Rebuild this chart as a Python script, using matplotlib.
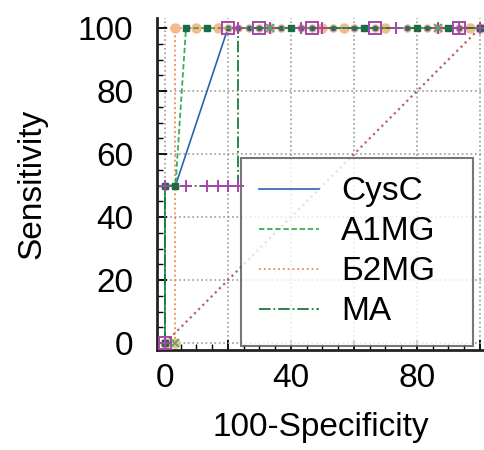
import matplotlib
matplotlib.use("Agg")
import matplotlib.pyplot as plt
from matplotlib.ticker import MultipleLocator, FixedLocator, FixedFormatter

plt.rcParams['font.family'] = ['Liberation Sans', 'DejaVu Sans']

# ROC points (100-Specificity, Sensitivity)
cysc_x = [0, 0, 3.33, 20, 23.3, 26.7, 30, 36.7, 43.3, 46.7, 53.3, 60, 66.7, 76.7, 83.3, 93.3, 100]
cysc_y = [0, 50, 50, 100, 100, 100, 100, 100, 100, 100, 100, 100, 100, 100, 100, 100, 100]
a1mg_x = [0, 0, 3.33, 6.67, 13.3, 40, 63.3, 80, 90, 100]
a1mg_y = [0, 50, 50, 100, 100, 100, 100, 100, 100, 100]
b2mg_x = [0, 3.33, 3.33, 10, 16.7, 33.3, 50, 56.7, 70, 86.7, 96.7, 100]
b2mg_y = [0, 0, 100, 100, 100, 100, 100, 100, 100, 100, 100, 100]
ma_x = [0, 0, 6.67, 13.3, 16.7, 20, 23.3, 23.3, 33.3, 43.3, 50, 73.3, 86.7, 93.3, 100]
ma_y = [0, 50, 50, 50, 50, 50, 50, 100, 100, 100, 100, 100, 100, 100, 100]
ref_x = [0, 100]
ref_y = [0, 100]

x_ticks = [0, 20, 40, 60, 80, 100]
x_labels = ['0', '', '40', '', '80', '']

fig = plt.figure(figsize=(4.85, 4.5), dpi=100)
ax = fig.add_axes([0.3237, 0.2222, 0.6763, 0.7378])

ax.plot(ref_x, ref_y, color='#b86262', linestyle=':', linewidth=1.6, zorder=2)

ax.plot(b2mg_x, b2mg_y, color='#f08848', linestyle=':', linewidth=1.3,
        marker='o', markersize=6.5, markerfacecolor='#f7b98a', markeredgecolor='#f7b98a',
        label='\u04112MG', zorder=3)
ax.plot(cysc_x, cysc_y, color='#2a62b0', linestyle='-', linewidth=1.2,
        marker='o', markersize=5, markerfacecolor='#2a5aa8', markeredgecolor='#f4a56c',
        markeredgewidth=1.0, label='CysC', zorder=4)
ax.plot(a1mg_x, a1mg_y, color='#3aae55', linestyle=(0, (3, 1.5)), linewidth=1.3,
        marker='s', markersize=4.5, markerfacecolor='#1d6a48', markeredgecolor='#1d6a48',
        label='A1MG', zorder=5)
ax.plot(ma_x, ma_y, color='#1f7a3e', linestyle='-.', linewidth=1.3,
        marker='+', markersize=8, markeredgecolor='#a04aa8', markeredgewidth=1.4,
        label='MA', zorder=6)
ax.plot(cysc_x[::3], cysc_y[::3], linestyle='none', marker='s', markersize=8,
        markerfacecolor='none', markeredgecolor='#a04aa8', markeredgewidth=1.4, zorder=7)
ax.plot(b2mg_x[1::4], b2mg_y[1::4], linestyle='none', marker='x', markersize=6,
        markeredgecolor='#4cae5c', markeredgewidth=1.2, zorder=7)

ax.set_xlim(-2.54, 101.6)
ax.set_ylim(-2.2, 103.2)

ax.xaxis.set_major_locator(FixedLocator(x_ticks))
ax.xaxis.set_major_formatter(FixedFormatter(x_labels))
ax.xaxis.set_minor_locator(MultipleLocator(5))
ax.yaxis.set_major_locator(MultipleLocator(20))
ax.yaxis.set_minor_locator(MultipleLocator(5))

ax.tick_params(which='major', direction='in', length=7, width=1.3, labelsize=24)
ax.tick_params(axis='y', which='major', pad=17)
ax.tick_params(axis='x', which='major', pad=9)
ax.tick_params(which='minor', direction='in', length=4, width=1.0)

ax.grid(True, which='major', color='#9a9a9a', linestyle=':', linewidth=1.2)
for s in ['top', 'right']:
    ax.spines[s].set_visible(False)
for s in ['left', 'bottom']:
    ax.spines[s].set_linewidth(2)
    ax.spines[s].set_color('#222222')

ax.set_xlabel('100-Specificity', fontsize=24, labelpad=13)
ax.set_ylabel('Sensitivity', fontsize=24, labelpad=22)

handles, labels = ax.get_legend_handles_labels()
order = [1, 2, 0, 3]
leg = ax.legend([handles[i] for i in order], [labels[i] for i in order],
                loc='upper left', bbox_to_anchor=(241 / 485, 1 - 343 / 450, 232 / 485, 185 / 450),
                bbox_transform=fig.transFigure, borderaxespad=0, mode='expand',
                fontsize=24, frameon=True, fancybox=False, handlelength=1.8,
                handletextpad=0.65, labelspacing=0.27, borderpad=0.55)
leg.get_frame().set_edgecolor('#555555')
leg.get_frame().set_linewidth(1.5)
for h in leg.legend_handles:
    h.set_marker('None')

fig.savefig('out.png', dpi=100)
